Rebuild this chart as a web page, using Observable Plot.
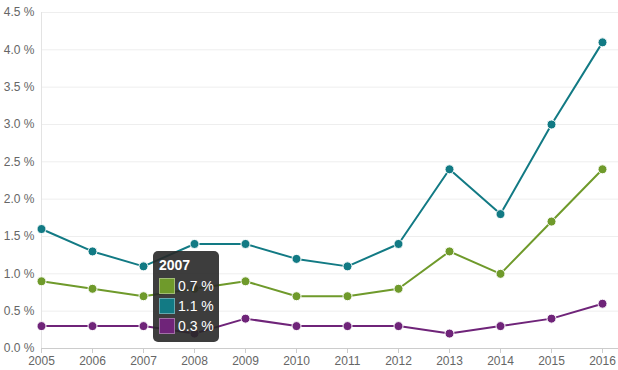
<!DOCTYPE html>
<html>
<head>
<meta charset="utf-8">
<script src="https://cdn.jsdelivr.net/npm/d3@7"></script>
<script src="https://cdn.jsdelivr.net/npm/@observablehq/plot@0.6"></script>
<style>
  html, body { margin: 0; padding: 0; background: #fff; }
  #wrap { position: relative; width: 618px; height: 370px; font-family: "Liberation Sans", Arial, sans-serif; }
  #tip { position: absolute; background: rgba(40,40,40,0.9); border-radius: 5px; color: #fff; padding: 6px 5px 6px 6px; font-size: 14px; line-height: 20px; white-space: nowrap; }
  #tip .t { font-weight: bold; font-size: 14px; line-height: 16px; margin-bottom: 3px; }
  #tip .r { display: flex; align-items: center; height: 20px; }
  #tip .sw { width: 16px; height: 16px; box-sizing: border-box; border: 1px solid rgba(255,255,255,0.35); margin-right: 3px; flex: none; }
</style>
</head>
<body>
<div id="wrap"></div>
<script>
const years = [2005, 2006, 2007, 2008, 2009, 2010, 2011, 2012, 2013, 2014, 2015, 2016];
const series1Values = [0.9, 0.8, 0.7, 0.8, 0.9, 0.7, 0.7, 0.8, 1.3, 1.0, 1.7, 2.4];
const series2Values = [1.6, 1.3, 1.1, 1.4, 1.4, 1.2, 1.1, 1.4, 2.4, 1.8, 3.0, 4.1];
const series3Values = [0.3, 0.3, 0.3, 0.2, 0.4, 0.3, 0.3, 0.3, 0.2, 0.3, 0.4, 0.6];
const seriesNames  = ["Series 1", "Series 2", "Series 3"];
const seriesColors = ["#6f9a2b", "#127a84", "#6f2479"];
const yTicks = [0, 0.5, 1, 1.5, 2, 2.5, 3, 3.5, 4, 4.5];
const tooltipYear = 2007;

const allValues = [series1Values, series2Values, series3Values];
const data = [];
seriesNames.forEach((s, i) => years.forEach((yr, j) => data.push({series: s, year: yr, value: allValues[i][j]})));

const plot = Plot.plot({
  width: 618,
  height: 370,
  marginLeft: 41,
  marginRight: 0,
  marginTop: 12,
  marginBottom: 22,
  insetRight: 16,
  style: {fontFamily: "'Liberation Sans', Arial, sans-serif", fontSize: "12px", color: "#666", background: "#fff"},
  x: {domain: [2005, 2016], label: null},
  y: {domain: [0, 4.5], label: null},
  color: {type: "ordinal", domain: seriesNames, range: seriesColors},
  marks: [
    Plot.ruleY(yTicks.filter(d => d > 0), {stroke: "#eeeeee", strokeWidth: 1}),
    Plot.ruleX([2005], {stroke: "#e3e3e3", strokeWidth: 1}),
    Plot.ruleY([0], {stroke: "#cccccc", strokeWidth: 1}),
    Plot.axisX({ticks: years, tickFormat: d => String(d), tickSize: 5, tickPadding: 3, stroke: "#cccccc", fill: "#666", label: null}),
    Plot.axisY({ticks: yTicks, tickFormat: d => d.toFixed(1) + " %", tickSize: 0, tickPadding: 7, fill: "#666", label: null}),
    Plot.line(data, {x: "year", y: "value", z: "series", stroke: "series", strokeWidth: 2}),
    Plot.dot(data, {x: "year", y: "value", fill: "series", stroke: "#fff", strokeWidth: 1, r: 4.5})
  ]
});

const wrap = document.getElementById("wrap");
wrap.appendChild(plot);

const xs = plot.scale("x");
const tip = document.createElement("div");
tip.id = "tip";
const idx = years.indexOf(tooltipYear);
let html = `<div class="t">${tooltipYear}</div>`;
seriesNames.forEach((s, i) => {
  html += `<div class="r"><div class="sw" style="background:${seriesColors[i]}"></div><span>${allValues[i][idx].toFixed(1)} %</span></div>`;
});
tip.innerHTML = html;
tip.style.left = (xs.apply(tooltipYear) + 10) + "px";
tip.style.top = "251px";
wrap.appendChild(tip);
</script>
</body>
</html>
